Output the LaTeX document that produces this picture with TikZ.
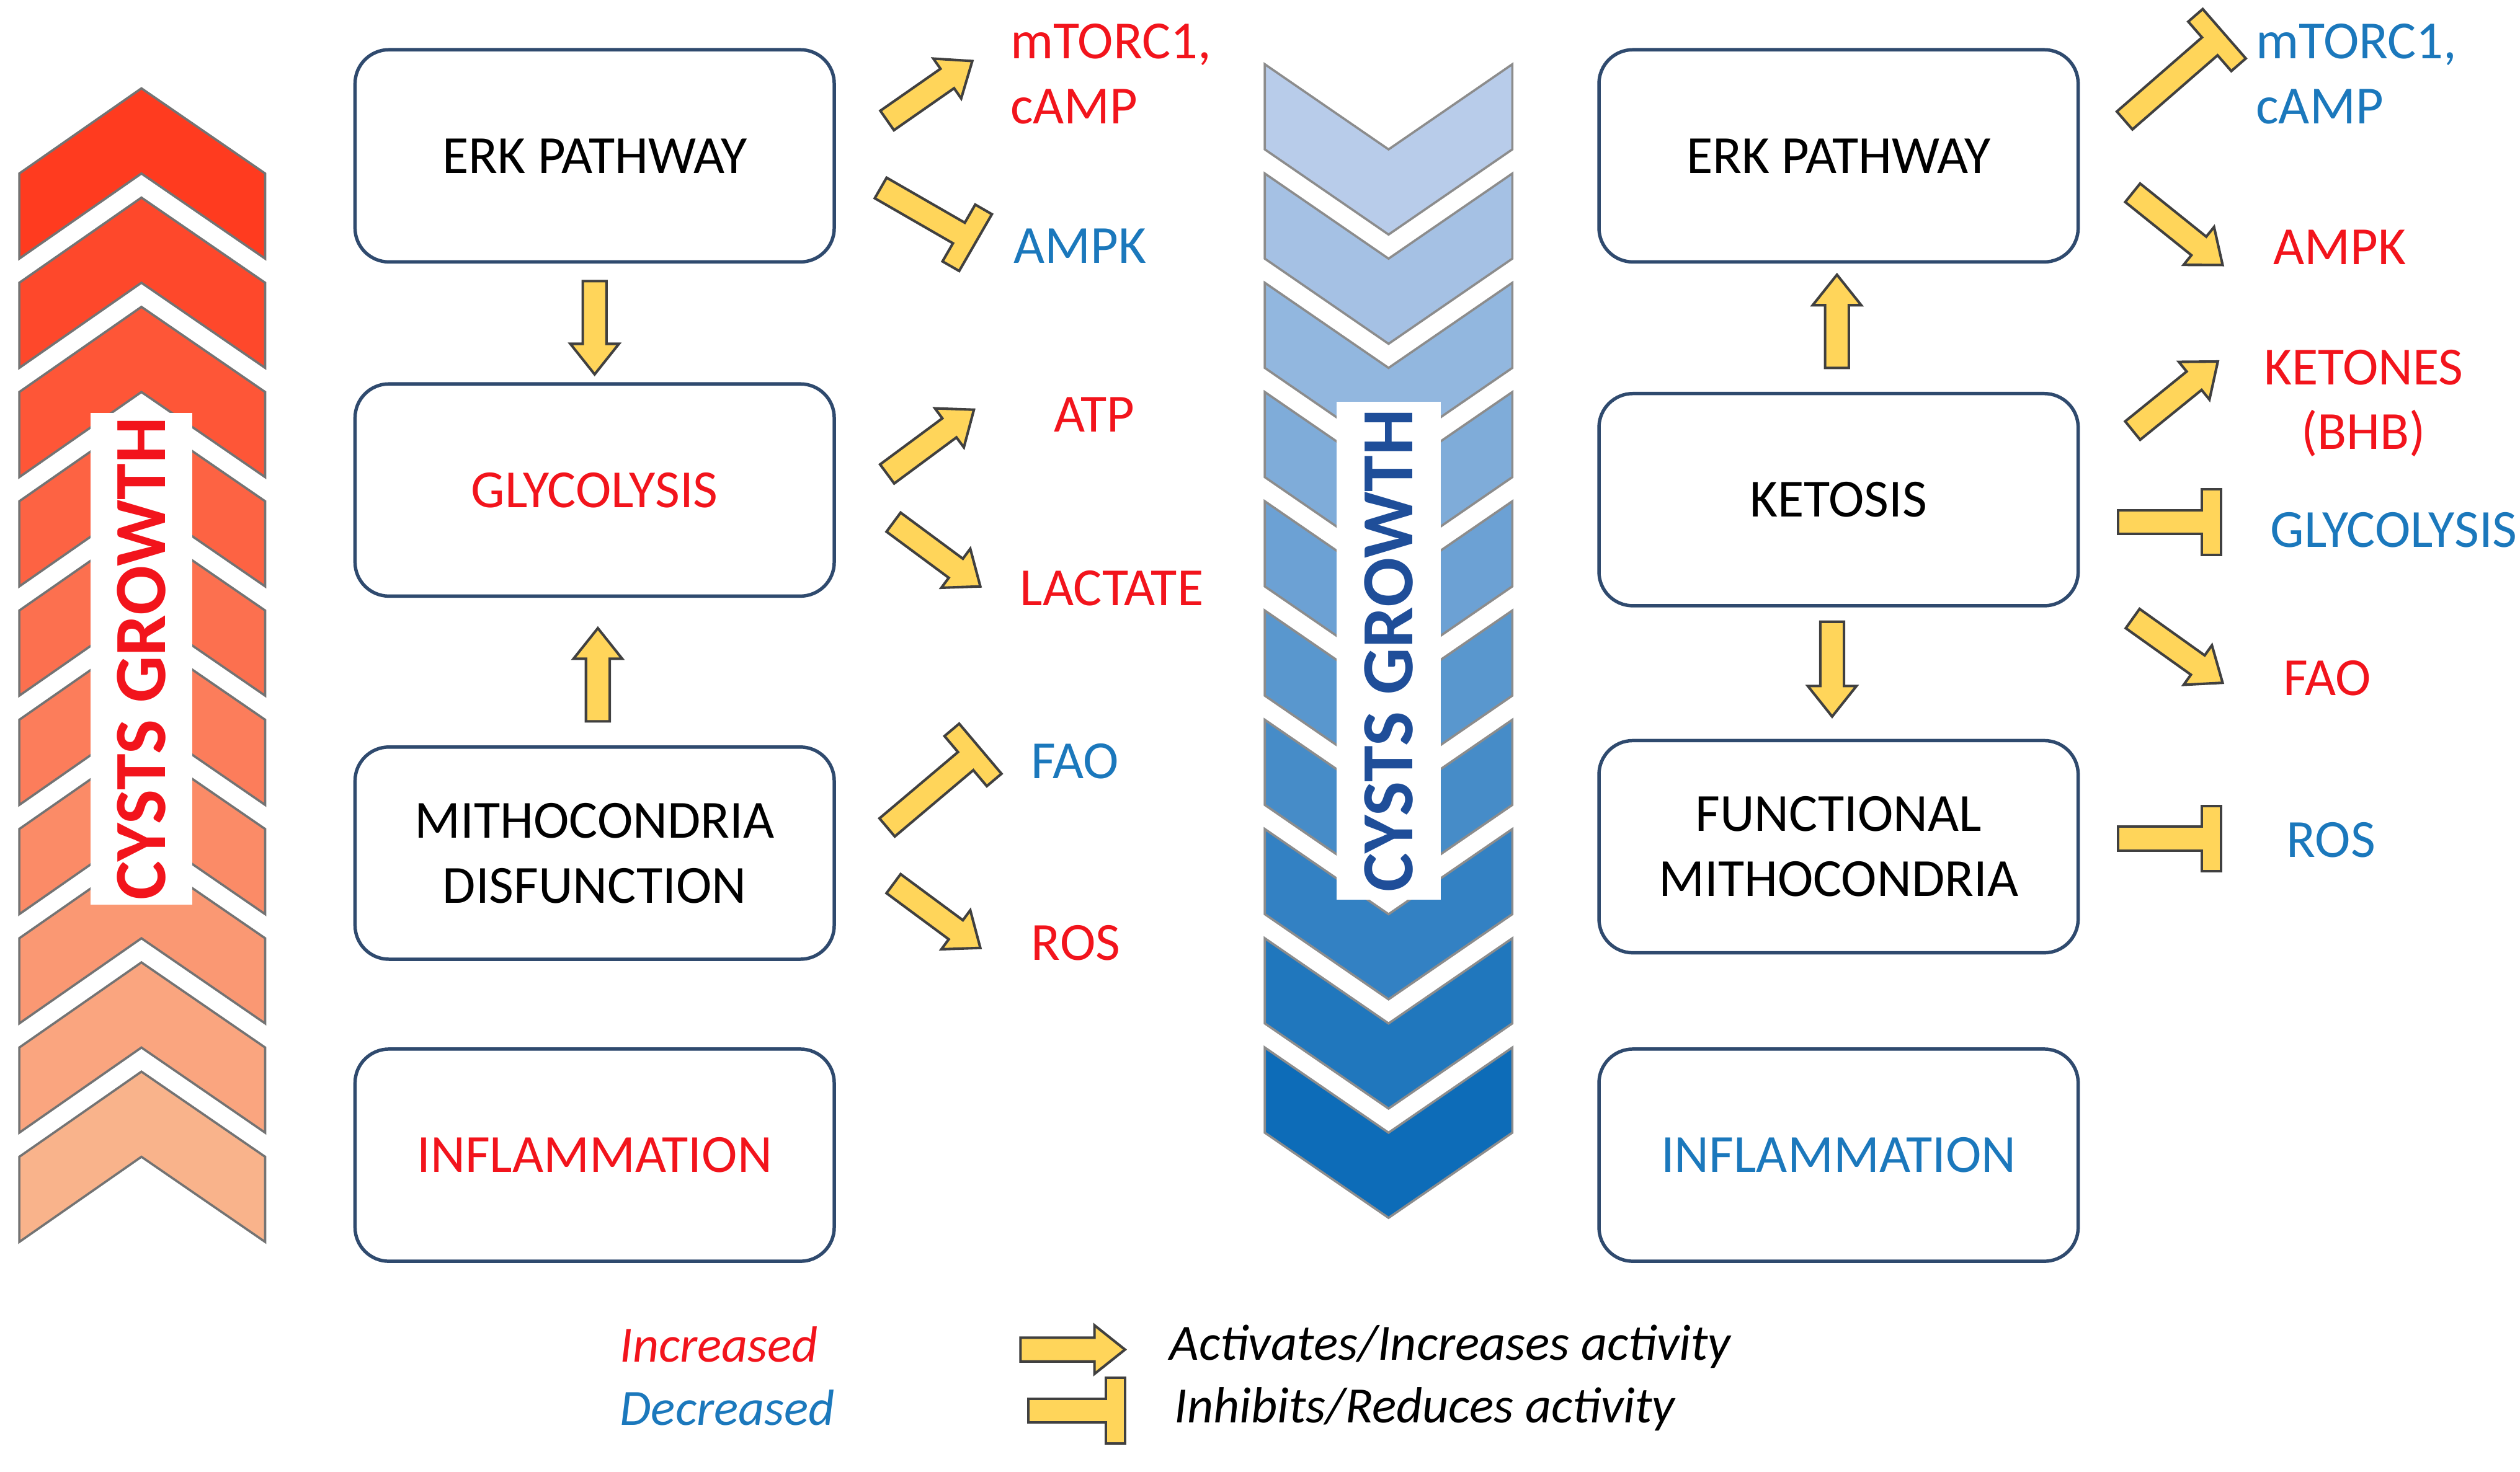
\documentclass[tikz,border=0pt]{standalone}
\usepackage{fontspec}
\usetikzlibrary{calc}
\setmainfont{Carlito}
\begin{document}
\definecolor{tred}{HTML}{F2141C}
\definecolor{tblue}{HTML}{1B78BC}
\definecolor{ylw}{HTML}{FFD55A}
\definecolor{edge}{HTML}{2F4A6E}
\definecolor{lt}{HTML}{FF3B1F}
\definecolor{lb}{HTML}{F9B48C}
\definecolor{rt}{HTML}{B8CCEA}
\definecolor{rb}{HTML}{0B6BB7}
\definecolor{gb}{HTML}{1F4E99}
\begin{tikzpicture}[x=0.01cm,y=-0.01cm,
  box/.style={draw=edge,line width=0.6pt,rounded corners=6pt,minimum width=2.98cm,minimum height=1.32cm,align=center,font=\fontsize{9.5}{11.5}\selectfont},
  lab/.style={anchor=west,font=\fontsize{9.5}{11.5}\selectfont,inner sep=0pt},
  blk/.style={fill=ylw,draw=black!75,line width=0.45pt,line join=miter},
  pics/act/.style={code={\draw[blk] (0pt,-2.1pt) -- ({#1-5.4pt},-2.1pt) -- ({#1-5.4pt},-4.3pt) -- ({#1},0pt) -- ({#1-5.4pt},4.3pt) -- ({#1-5.4pt},2.1pt) -- (0pt,2.1pt) -- cycle;}},
  pics/inh/.style={code={\draw[blk] (0pt,-2.1pt) -- ({#1-3.4pt},-2.1pt) -- ({#1-3.4pt},-5.8pt) -- ({#1},-5.8pt) -- ({#1},5.8pt) -- ({#1-3.4pt},5.8pt) -- ({#1-3.4pt},2.1pt) -- (0pt,2.1pt) -- cycle;}}
]
\newcommand\blkarrow[3]{\path let \p1=(#2), \p2=(#3), \n1={atan2(\y2-\y1,\x2-\x1)}, \n2={veclen(\x2-\x1,\y2-\y1)} in (\p1) pic[rotate=\n1]{#1=\n2};}
\useasboundingbox (0,0) rectangle (1568,916);
% chevrons
\foreach \i in {0,...,9}{
  \pgfmathsetmacro\yy{55+68*\i}
  \pgfmathsetmacro\pc{100-\i*11}
  \fill[lt!\pc!lb,draw=black!55,line width=0.4pt] (12,\yy+53) -- (88,\yy) -- (165,\yy+53) -- (165,\yy+106) -- (88,\yy+53) -- (12,\yy+106) -- cycle;
  \pgfmathsetmacro\zz{40+68*\i}
  \fill[rt!\pc!rb,draw=black!45,line width=0.4pt] (787,\zz) -- (864,\zz+53) -- (941,\zz) -- (941,\zz+53) -- (864,\zz+106) -- (787,\zz+53) -- cycle;
}
\node[fill=white,minimum width=0.63cm,minimum height=3.06cm,inner sep=0pt] (lg) at (88,410) {};
\node[rotate=90,text=tred,font=\fontsize{13}{13}\bfseries] at (lg) {CYSTS GROWTH};
\node[fill=white,minimum width=0.65cm,minimum height=3.1cm,inner sep=0pt] (rg) at (864,405) {};
\node[rotate=90,text=gb,font=\fontsize{13}{13}\bfseries] at (rg) {CYSTS GROWTH};
% boxes
\node[box] (erkL) at (370,97) {ERK PATHWAY};
\node[box,text=tred] (glyL) at (370,305) {GLYCOLYSIS};
\node[box] (mitL) at (370,531) {MITHOCONDRIA\\DISFUNCTION};
\node[box,text=tred] (infL) at (370,719) {INFLAMMATION};
\node[box] (erkR) at (1144,97) {ERK PATHWAY};
\node[box] (ketR) at (1144,311) {KETOSIS};
\node[box] (funR) at (1144,527) {FUNCTIONAL\\MITHOCONDRIA};
\node[box,text=tblue] (infR) at (1144,719) {INFLAMMATION};
% labels
\node[lab,text=tred,align=left] (l1) at (628,46) {mTORC1,\\cAMP};
\node[lab,text=tblue] (l2) at (630,153) {AMPK};
\node[lab,text=tred] (l3) at (655,258) {ATP};
\node[lab,text=tred] (l4) at (634,366) {LACTATE};
\node[lab,text=tblue] (l5) at (641,474) {FAO};
\node[lab,text=tred] (l6) at (641,587) {ROS};
\node[lab,text=tblue,align=left] (r1) at (1403,46) {mTORC1,\\cAMP};
\node[lab,text=tred] (r2) at (1414,154) {AMPK};
\node[lab,text=tred,align=center] (r3) at (1408,251) {KETONES\\(BHB)};
\node[lab,text=tblue] (r4) at (1412,330) {GLYCOLYSIS};
\node[lab,text=tred] (r5) at (1420,422) {FAO};
\node[lab,text=tblue] (r6) at (1422,523) {ROS};
% arrow coordinates
\coordinate (a1) at (552,75); \coordinate (b1) at (605,38);
\coordinate (a2) at (548,117); \coordinate (b2) at (607,151);
\coordinate (a3) at (552,295); \coordinate (b3) at (606,255);
\coordinate (a4) at (556,325); \coordinate (b4) at (610,365);
\coordinate (a5) at (552,515); \coordinate (b5) at (610,466);
\coordinate (a6) at (556,550); \coordinate (b6) at (610,590);
\coordinate (c1) at (1322,75); \coordinate (d1) at (1384,21);
\coordinate (c2) at (1327,120); \coordinate (d2) at (1383,165);
\coordinate (c3) at (1327,268); \coordinate (d3) at (1380,225);
\coordinate (c4) at (1318,325); \coordinate (d4) at (1382,325);
\coordinate (c5) at (1327,385); \coordinate (d5) at (1383,425);
\coordinate (c6) at (1318,522); \coordinate (d6) at (1382,522);
\blkarrow{act}{a1}{b1}
\blkarrow{inh}{a2}{b2}
\blkarrow{act}{a3}{b3}
\blkarrow{act}{a4}{b4}
\blkarrow{inh}{a5}{b5}
\blkarrow{act}{a6}{b6}
\blkarrow{inh}{c1}{d1}
\blkarrow{act}{c2}{d2}
\blkarrow{act}{c3}{d3}
\blkarrow{inh}{c4}{d4}
\blkarrow{act}{c5}{d5}
\blkarrow{inh}{c6}{d6}
% vertical arrows
\coordinate (v1) at (370,175); \coordinate (w1) at (370,233);
\coordinate (v2) at (372,449); \coordinate (w2) at (372,391);
\coordinate (v3) at (1143,229); \coordinate (w3) at (1143,171);
\coordinate (v4) at (1140,387); \coordinate (w4) at (1140,446);
\blkarrow{act}{v1}{w1}
\blkarrow{act}{v2}{w2}
\blkarrow{act}{v3}{w3}
\blkarrow{act}{v4}{w4}
% legend
\node[lab,text=tred,font=\fontsize{9}{11}\itshape] (inc) at (385,837) {Increased};
\node[lab,text=tblue,font=\fontsize{9}{11}\itshape] (dec) at (385,876) {Decreased};
\coordinate (e1) at (635,840); \coordinate (f1) at (700,840);
\coordinate (e2) at (640,878); \coordinate (f2) at (700,878);
\blkarrow{act}{e1}{f1}
\blkarrow{inh}{e2}{f2}
\node[lab,font=\fontsize{9}{11}\itshape] (act) at (727,838) {Activates/Increases activity};
\node[lab,font=\fontsize{9}{11}\itshape] (inhl) at (730,877) {Inhibits/Reduces activity};
\end{tikzpicture}
\end{document}
